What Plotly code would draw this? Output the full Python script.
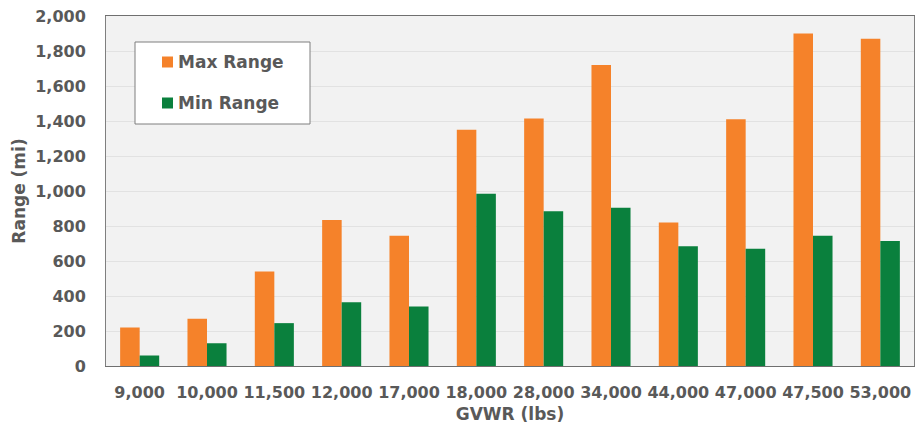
import plotly.graph_objects as go

# Gross vehicle weight rating classes (lbs) and estimated range (mi)
gvwr_labels = ["9,000", "10,000", "11,500", "12,000", "17,000", "18,000",
               "28,000", "34,000", "44,000", "47,000", "47,500", "53,000"]
max_range = [220, 270, 540, 835, 745, 1350, 1415, 1720, 820, 1410, 1900, 1870]
min_range = [60, 130, 245, 365, 340, 985, 885, 905, 685, 670, 745, 715]

series_names = ["Max Range", "Min Range"]
series_colors = ["#F5822A", "#0A803D"]

TEXT = "#595959"
FONT = "DejaVu Sans"

# plot-area geometry in pixels (used to place the legend box in paper units)
W, H = 915, 431
ML, MR, MT, MB = 106, 1, 16, 65
PW, PH = W - ML - MR, H - MT - MB


def px_x(px):
    return (px - ML) / PW


def px_y(py):
    return (H - MB - py) / PH


fig = go.Figure()
for name, vals, color in zip(series_names, [max_range, min_range], series_colors):
    fig.add_trace(go.Bar(x=gvwr_labels, y=vals, name=name,
                         marker=dict(color=color, line=dict(width=0)),
                         showlegend=False))

# legend panel: white box with square swatches
shapes = [dict(type="rect", xref="paper", yref="paper",
               x0=px_x(135), x1=px_x(310), y0=px_y(124), y1=px_y(42),
               fillcolor="white", line=dict(color="#7F7F7F", width=1), layer="above")]
annotations = []
for i, (name, color) in enumerate(zip(series_names, series_colors)):
    cy = 62 + 41 * i
    shapes.append(dict(type="rect", xref="paper", yref="paper",
                       x0=px_x(162), x1=px_x(173), y0=px_y(cy + 5.5), y1=px_y(cy - 5.5),
                       fillcolor=color, line=dict(width=0), layer="above"))
    annotations.append(dict(text=name, xref="paper", yref="paper",
                            x=px_x(176), y=px_y(cy), xanchor="left", yanchor="middle",
                            showarrow=False,
                            font=dict(family=FONT, size=17, color=TEXT, weight="bold")))

fig.update_layout(
    width=W, height=H,
    margin=dict(l=ML, r=MR, t=MT, b=MB),
    paper_bgcolor="white",
    plot_bgcolor="#F2F2F2",
    barmode="group",
    bargap=0.42,
    bargroupgap=0,
    font=dict(family=FONT, size=16, color=TEXT),
    showlegend=False,
    shapes=shapes,
    annotations=annotations,
    xaxis=dict(
        type="category",
        showgrid=False,
        showline=True, linecolor="#6F6F6F", linewidth=1, mirror=True,
        tickfont=dict(family=FONT, size=16, color=TEXT, weight="bold"),
        ticks="", ticklabelstandoff=12,
        title=dict(text="GVWR (lbs)", standoff=6,
                   font=dict(family=FONT, size=17, color=TEXT, weight="bold")),
    ),
    yaxis=dict(
        range=[0, 2000], dtick=200, tickformat=",",
        showgrid=True, gridcolor="#E2E2E2", gridwidth=1,
        zeroline=False,
        showline=True, linecolor="#7F7F7F", linewidth=1, mirror=True,
        tickfont=dict(family=FONT, size=16, color=TEXT, weight="bold"),
        ticks="", ticklabelstandoff=16,
        title=dict(text="Range (mi)", standoff=5,
                   font=dict(family=FONT, size=17, color=TEXT, weight="bold")),
    ),
)

fig.write_html("out.html")
